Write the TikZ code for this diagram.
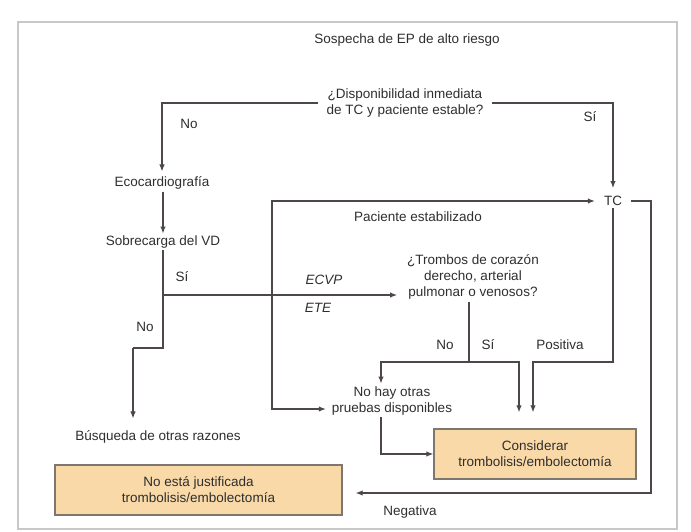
\documentclass[tikz,border=0pt]{standalone}
\usepackage{fontspec}
\setmainfont{Liberation Sans}
\usepackage{xcolor}
\usepackage{tikz}
\usetikzlibrary{arrows.meta,positioning,calc}
\definecolor{framegray}{HTML}{C8C8C8}
\definecolor{linegray}{HTML}{4E4749}
\definecolor{softpeach}{HTML}{F9D9A7}
\definecolor{boxedge}{HTML}{7D7770}
\definecolor{textgray}{HTML}{2E2E2E}

\begin{document}
\begin{tikzpicture}[x=1pt,y=-1pt,
 txt/.style={align=center,font=\fontsize{13.5}{16}\selectfont,text=textgray,inner sep=2pt},
 txtit/.style={txt,font=\fontsize{13.5}{16}\selectfont\itshape},
 box/.style={draw=boxedge,line width=1.4pt,fill=softpeach,align=center,font=\fontsize{13.5}{16}\selectfont,text=textgray,minimum height=50pt},
 arr/.style={-{Latex[length=7pt,width=5.5pt]},line width=1.1pt,draw=linegray},
 darr/.style={{Latex[length=7pt,width=5.5pt]}-{Latex[length=7pt,width=5.5pt]},line width=1.1pt,draw=linegray},
 ln/.style={line width=1.1pt,draw=linegray}
]
\useasboundingbox (0,0) rectangle (691,532);
\draw[framegray,line width=1.2pt] (18,22) rectangle (677,529);
% nodes
\node[txt] (title) at (407,40) {Sospecha de EP de alto riesgo};
\node[txt,inner xsep=8pt] (disp) at (405,103) {¿Disponibilidad inmediata\\de TC y paciente estable?};
\node[txt] (eco) at (162,183) {Ecocardiografía};
\node[txt,inner xsep=9pt] (tc) at (613,201) {TC};
\node[txt] (sobre) at (163,242) {Sobrecarga del VD};
\node[txt,inner xsep=10pt] (trombos) at (473,277) {¿Trombos de corazón\\derecho, arterial\\pulmonar o venosos?};
\node[txt,inner xsep=6pt] (nohay) at (392,401) {No hay otras\\pruebas disponibles};
\node[txt] (busq) at (158,437) {Búsqueda de otras razones};
\node[box,minimum width=202pt] (consid) at (535,454) {Considerar\\trombolisis/embolectomía};
\node[box,minimum width=287pt] (nojust) at (198.5,490) {No está justificada\\trombolisis/embolectomía};
% labels
\node[txt] (lno1) at (189,124) {No};
\node[txt] (lsi1) at (590,117) {Sí};
\node[txt] (lpac) at (418,217) {Paciente estabilizado};
\node[txt] (lsi2) at (182,277) {Sí};
\node[txtit] (lecvp) at (324,280) {ECVP};
\node[txtit] (lete) at (318,308) {ETE};
\node[txt] (lno2) at (145,327) {No};
\node[txt] (lno3) at (445,345) {No};
\node[txt] (lsi3) at (488,345) {Sí};
\node[txt] (lpos) at (560,345) {Positiva};
\node[txt] (lneg) at (410,512) {Negativa};
% bends
\coordinate (vdsi) at (163,295); \coordinate (vdno) at (163,348); \coordinate (busqtop) at (133,348);
\coordinate (trj) at (469,362); \coordinate (trno) at (381,362); \coordinate (trsi) at (519,362);
\coordinate (pospt) at (533,362); \coordinate (negr) at (651,493); \coordinate (pac) at (272,300);
% connectors
\draw[arr] (disp.west) -| ([yshift=3pt]eco.north); \draw[arr,shorten >=6pt] (disp.east) -| (tc.north);
\draw[arr] (vdno |- eco.south) -- (vdno |- sobre.north);
\draw[ln] (sobre.south) -- (vdno) -- (busqtop); \draw[arr,shorten >=10pt] (busqtop) -- (busqtop |- busq.north);
\draw[arr] (vdsi) -- (vdsi -| trombos.west);
\draw[ln] (trj |- trombos.south) -- (trj);
\draw[arr,shorten >=1pt] (trj) -- (trno) -- (trno |- nohay.north);
\draw[arr,shorten >=16pt] (trj) -- (trsi) -- (trsi |- consid.north);
\draw[arr,shorten >=16pt] (tc.south) |- (pospt) -- (pospt |- consid.north);
\draw[arr,shorten >=13pt] (tc.east) -| (negr) -- (negr -| nojust.east);
\draw[darr] (tc.west) -| (pac) |- ([yshift=-8pt]nohay.west);
\draw[arr] (trno |- nohay.south) |- (consid.west);
\end{tikzpicture}
\end{document}
